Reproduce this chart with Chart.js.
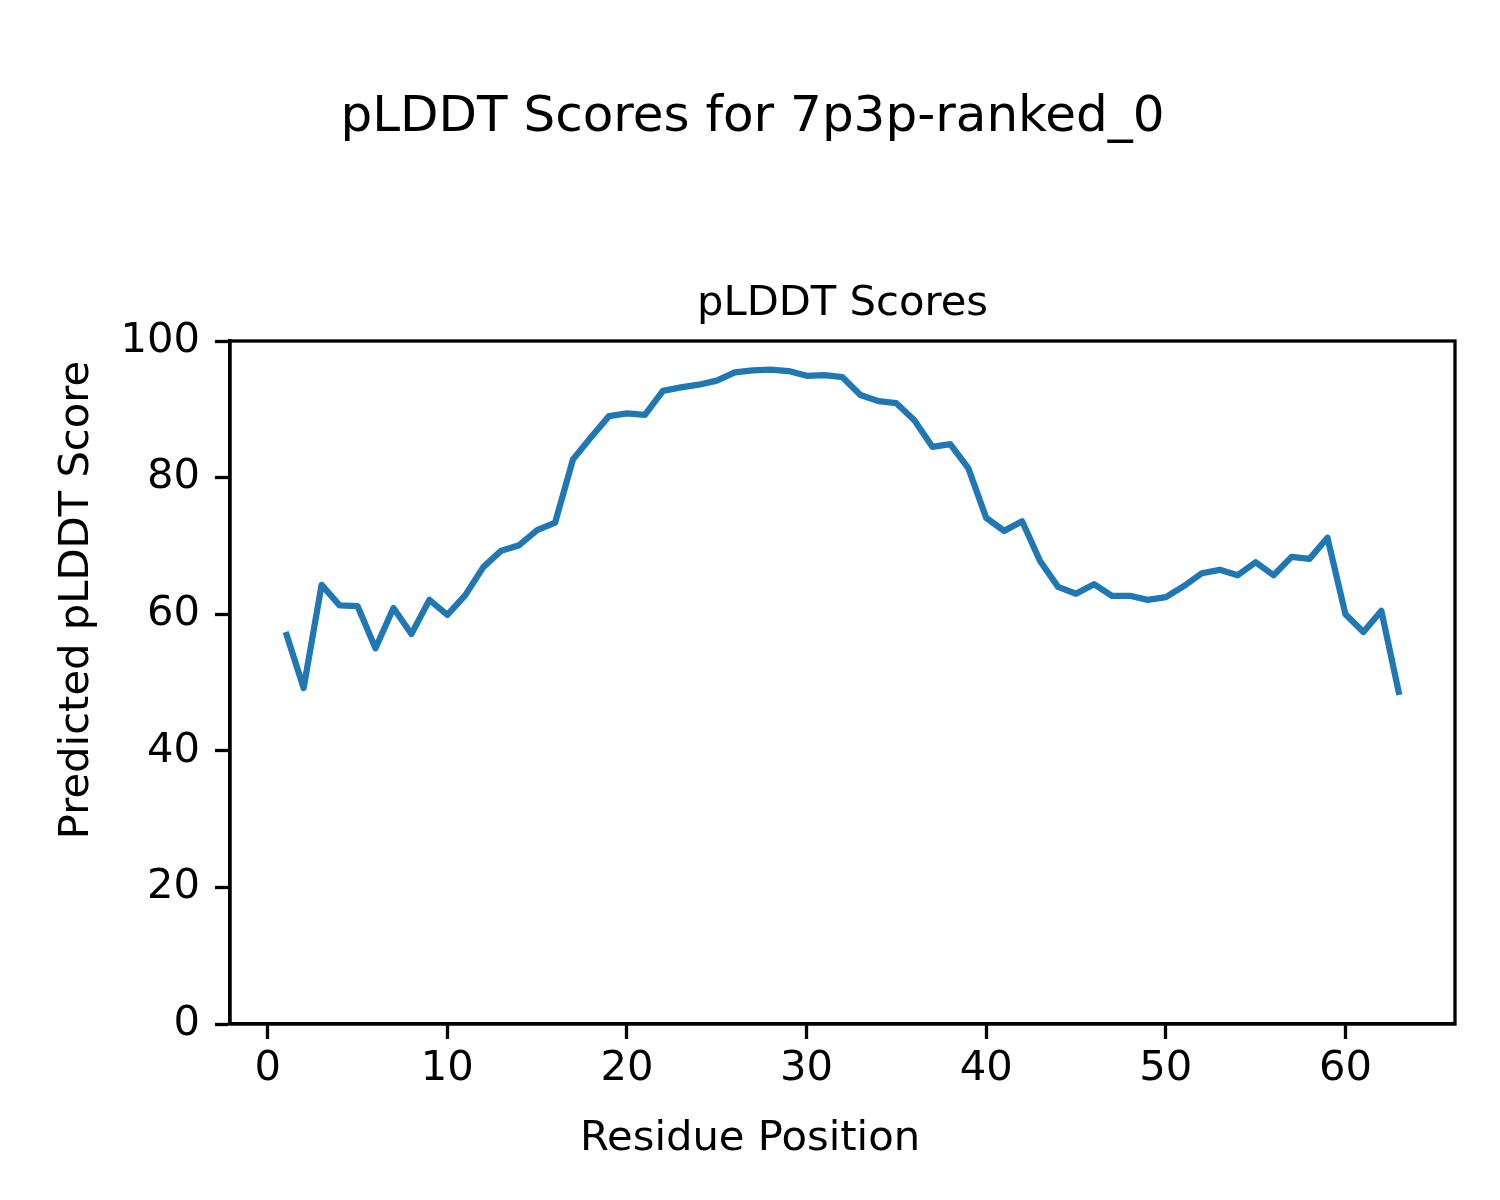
<!DOCTYPE html>
<html>
<head>
<meta charset="utf-8">
<script src="https://cdn.jsdelivr.net/npm/chart.js@4/dist/chart.umd.min.js"></script>
<style>
  html, body { margin: 0; padding: 0; background: #fff; }
  #wrap { width: 1500px; height: 1200px; }
</style>
</head>
<body>
<div id="wrap"><canvas id="plddt" width="1500" height="1200"></canvas></div>
<script>
// residue positions and pLDDT scores
const residues = [];
for (let i = 1; i <= 63; i++) residues.push(i);
const scores = [
  57.4, 49.2, 64.3, 61.3, 61.2, 55.0, 60.9, 57.1, 62.1, 59.9,
  62.8, 66.9, 69.3, 70.1, 72.3, 73.4, 82.7, 85.9, 89.0, 89.4,
  89.2, 92.7, 93.2, 93.6, 94.2, 95.4, 95.7, 95.8, 95.6, 94.9,
  95.0, 94.7, 92.1, 91.2, 90.9, 88.4, 84.5, 84.9, 81.4, 74.1,
  72.2, 73.6, 67.8, 64.0, 63.0, 64.4, 62.7, 62.7, 62.1, 62.5,
  64.1, 66.0, 66.5, 65.7, 67.6, 65.7, 68.4, 68.1, 71.2, 60.0,
  57.4, 60.5, 48.2,
];
const xTicks = [0, 10, 20, 30, 40, 50, 60];
const yTicks = [0, 20, 40, 60, 80, 100];

const FONT = "'DejaVu Sans', sans-serif";
const SPINE = 3.3;

// closed frame plus the axes title / axis labels, placed like the matplotlib figure
const frame = {
  id: "frame",
  afterDatasetsDraw(chart) {
    const { ctx, chartArea: a, width } = chart;
    ctx.save();
    ctx.strokeStyle = "#000";
    ctx.lineWidth = SPINE;
    ctx.strokeRect(a.left, a.top, a.right - a.left, a.bottom - a.top);

    ctx.fillStyle = "#000";
    ctx.font = "41.7px " + FONT;
    ctx.textAlign = "center";
    ctx.textBaseline = "middle";
    ctx.fillText("pLDDT Scores", (a.left + a.right) / 2, a.top - 37);
    ctx.fillText("Residue Position", width / 2, a.bottom + 115);
    ctx.translate(77, a.top + 259);
    ctx.rotate(-Math.PI / 2);
    ctx.fillText("Predicted pLDDT Score", 0, 0);
    ctx.restore();
  },
};

new Chart(document.getElementById("plddt").getContext("2d"), {
  type: "line",
  data: {
    datasets: [
      {
        data: residues.map((r, i) => ({ x: r, y: scores[i] })),
        borderColor: "#1f77b4",
        backgroundColor: "transparent",
        borderWidth: 6.25,
        pointRadius: 0,
        tension: 0,
        borderJoinStyle: "round",
      },
    ],
  },
  options: {
    responsive: false,
    animation: false,
    devicePixelRatio: 1,
    layout: { padding: { left: 50, right: 45, top: 0, bottom: 0 } },
    plugins: {
      legend: { display: false },
      tooltip: { enabled: false },
      title: {
        display: true,
        text: "pLDDT Scores for 7p3p-ranked_0",
        color: "#000",
        font: { family: FONT, size: 50, weight: "normal" },
        padding: { top: 88, bottom: 193 },
      },
    },
    scales: {
      x: {
        type: "linear",
        min: -2.1,
        max: 66.1,
        afterBuildTicks: (s) => { s.ticks = xTicks.map((v) => ({ value: v })); },
        afterFit: (s) => { s.height = 176; },
        grid: { display: true, drawOnChartArea: false, tickLength: 15, tickWidth: SPINE, color: "#000" },
        border: { display: true, color: "#000", width: SPINE },
        ticks: { color: "#000", font: { family: FONT, size: 41.7 }, padding: 5, maxRotation: 0 },
      },
      y: {
        min: 0,
        max: 100,
        afterBuildTicks: (s) => { s.ticks = yTicks.map((v) => ({ value: v })); },
        afterFit: (s) => { s.width = 180; },
        grid: { display: true, drawOnChartArea: false, tickLength: 15, tickWidth: SPINE, color: "#000" },
        border: { display: true, color: "#000", width: SPINE },
        ticks: { color: "#000", font: { family: FONT, size: 41.7 }, padding: 15 },
      },
    },
  },
  plugins: [frame],
});
</script>
</body>
</html>
